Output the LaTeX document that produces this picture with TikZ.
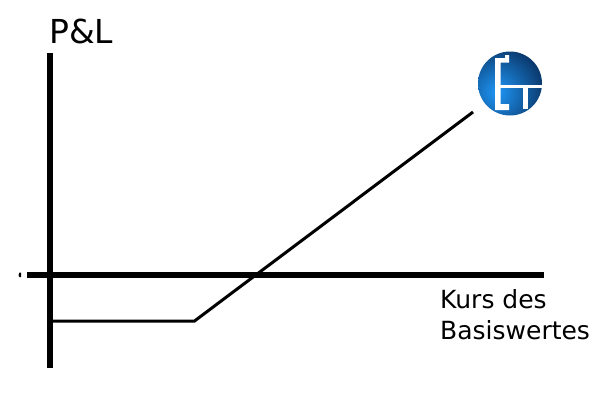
\documentclass[tikz,border=0pt]{standalone}
\usepackage{xcolor}
\usepackage{fontspec}
\setmainfont{DejaVu Sans}
\usetikzlibrary{positioning}
\definecolor{logobright}{RGB}{30,150,245}
\definecolor{logomid}{RGB}{15,105,210}
\definecolor{logodark}{RGB}{5,30,70}
\tikzset{
  axisline/.style = {line width = 6pt},
  payoffline/.style = {line width = 3pt, line join = miter},
  axislabel/.style = {inner sep = 0pt, align = left, font = \fontsize{25}{30.5}\selectfont}
}
\begin{document}
\begin{tikzpicture}[x = 1pt, y = -1pt]
  \useasboundingbox (0,0) rectangle (600,400);
  \coordinate (ytop) at (49.5,53);
  \coordinate (ybottom) at (49.5,368);
  \coordinate (xleft) at (27,274.5);
  \coordinate (xright) at (544,274.5);
  \coordinate (start) at (50,321);
  \coordinate (strike) at (194.5,321);
  \coordinate (end) at (473,112);
  % axes
  \draw[axisline] (ytop) -- (ybottom);
  \draw[axisline] (xleft) -- (xright);
  \fill (19.5,272.5) -- (21,272.5) -- (21,277) -- (19.5,277) -- (18.5,275) -- cycle;
  % payoff
  \draw[payoffline] (start) -- (strike) -- (end);
  % logo
  \begin{scope}
    \clip (510,83.5) circle (32);
    \shade[inner color = logobright, middle color = logomid, outer color = logodark] (497,92) circle (60);
  \end{scope}
  \fill[white] (495,58) -- (505,58) -- (505,55) -- (509,55) -- (509,62.5) -- (500.5,62.5) -- (500.5,104) -- (509,104) -- (509,110) -- (495,110) -- cycle;
  \fill[white] (500,84.5) -- (543,84.5) -- (543,87.5) -- (500,87.5) -- cycle;
  \fill[white] (523,87.5) -- (528,87.5) -- (528,109) -- (523,109) -- cycle;
  % labels
  \node[axislabel, anchor = base west, font = \fontsize{33}{33}\selectfont] (pl) at (49,43) {P\&L};
  \node[axislabel, anchor = north west] (kurs) at (440,289.5) {Kurs des\\Basiswertes};
\end{tikzpicture}
\end{document}
